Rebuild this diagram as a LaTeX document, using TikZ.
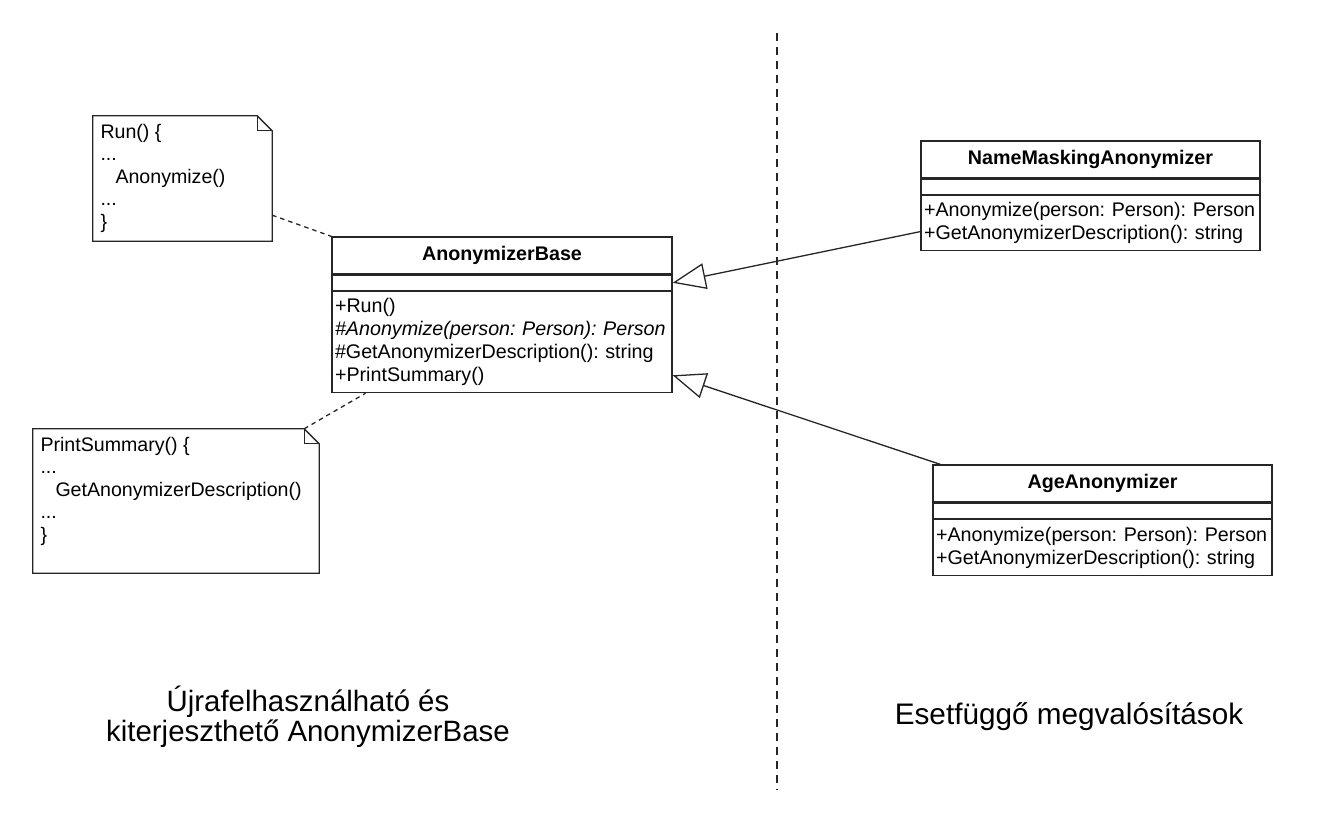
\documentclass[tikz,border=0pt]{standalone}
\usepackage{fontspec}
\setmainfont{Liberation Sans}
\usetikzlibrary{positioning,arrows.meta,calc}
\frenchspacing

\newcommand\umlfont{\fontsize{19.7}{23}\selectfont}
\newcommand\notefont{\fontsize{19.6}{22.5}\selectfont}
\newcommand\capfont{\fontsize{29.4}{30}\selectfont}

\tikzset{
  umlline/.style={line width=1.3pt, draw=black!85},
  classname/.style={umlline, draw, minimum height=37pt, inner sep=0pt, font=\umlfont\bfseries},
  classattr/.style={umlline, draw, minimum height=15pt, inner sep=0pt},
  classmeth/.style={umlline, draw, align=left, inner xsep=3pt, inner ysep=0pt, font=\umlfont},
  notebox/.style={inner sep=0pt},
  notetext/.style={anchor=north west, align=left, inner xsep=7.5pt, inner ysep=8pt, font=\notefont},
  notelink/.style={umlline, dash pattern=on 4.5pt off 4pt},
  inherit/.style={umlline, -{Triangle[open, length=33pt, width=26pt]}},
  divider/.style={umlline, dash pattern=on 8pt off 6pt},
  caption/.style={align=center, font=\capfont}
}

\begin{document}
\begin{tikzpicture}[x=1pt, y=-1pt]
\useasboundingbox (0,0) rectangle (1326,821);

% Base class
\node[classname, minimum width=340pt] (basename) at (502,255.5) {AnonymizerBase};
\node[classattr, minimum width=340pt, below=0pt of basename] (baseattr) {};
\node[classmeth, text width=334pt, minimum height=101pt, below=0pt of baseattr] (basemeth) {+Run()\\
  \textit{\#Anonymize(person: Person): Person}\\
  \#GetAnonymizerDescription(): string\\
  +PrintSummary()};

% Concrete classes
\node[classname, minimum width=339pt] (namename) at (1090.5,159.5) {NameMaskingAnonymizer};
\node[classattr, minimum width=339pt, below=0pt of namename] (nameattr) {};
\node[classmeth, text width=333pt, minimum height=55pt, below=0pt of nameattr] (namemeth) {+Anonymize(person: Person): Person\\
  +GetAnonymizerDescription(): string};

\node[classname, minimum width=339pt] (agename) at (1102.5,483.5) {AgeAnonymizer};
\node[classattr, minimum width=339pt, below=0pt of agename] (ageattr) {};
\node[classmeth, text width=333pt, minimum height=56pt, below=0pt of ageattr] (agemeth) {+Anonymize(person: Person): Person\\
  +GetAnonymizerDescription(): string};

% Notes
\node[notebox, minimum width=179pt, minimum height=125pt] (runnote) at (182.5,178.5) {};
\node[notetext] (runtext) at (runnote.north west) {Run() \{\\...\\\hspace*{15pt}Anonymize()\\...\\\}};
\node[notebox, minimum width=286pt, minimum height=144pt] (printnote) at (176,501) {};
\node[notetext] (printtext) at (printnote.north west) {PrintSummary() \{\\...\\\hspace*{15pt}GetAnonymizerDescription()\\...\\\}};

\foreach \n in {runnote,printnote} {
  \draw[umlline] (\n.north west) -- ([xshift=-15pt]\n.north east) -- ([yshift=-15pt]\n.north east)
    -- (\n.south east) -- (\n.south west) -- cycle;
  \draw[umlline] ([xshift=-15pt]\n.north east) |- ([yshift=-15pt]\n.north east);
}

% Note links
\draw[notelink] ([yshift=26pt]runnote.south east) -- (basename.north west);
\draw[notelink] ([xshift=-15pt]printnote.north east) -- ($(basemeth.south west)!0.1!(basemeth.south east)$);

% Generalisation
\draw[inherit] ([yshift=-8.5pt]namemeth.west) -- (baseattr.east);
\draw[inherit] ([xshift=8pt]agename.north west) -- ([yshift=18pt]basemeth.south east);

% Divider
\coordinate (divtop) at (777,33);
\coordinate (divbot) at (777,790);
\draw[divider] (divtop) -- (divbot);

% Captions
\node[caption] (reuselabel) at (308,717) {Újrafelhasználható és\\kiterjeszthető AnonymizerBase};
\node[caption, font=\fontsize{29.7}{32}\selectfont] (caselabel) at (1069,716.5) {Esetfüggő megvalósítások};
\end{tikzpicture}
\end{document}
